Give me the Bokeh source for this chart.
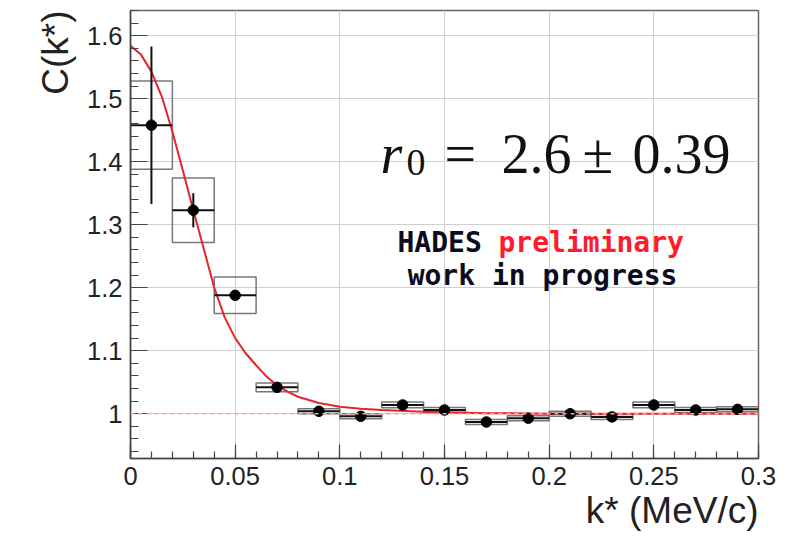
import numpy as np
from bokeh.plotting import figure
from bokeh.models import FixedTicker, Span, Label, Title
from bokeh.embed import file_html
from bokeh.resources import INLINE

# ---- data ----
k_centers = [0.01, 0.03, 0.05, 0.07, 0.09, 0.11, 0.13, 0.15, 0.17, 0.19, 0.21, 0.23, 0.25, 0.27, 0.29]
c_values = [1.458, 1.323, 1.188, 1.042, 1.004, 0.996, 1.014, 1.006, 0.987, 0.993, 1.000, 0.995, 1.014, 1.006, 1.007]
stat_err = [0.125, 0.027, 0.006, 0.004, 0.004, 0.004, 0.004, 0.004, 0.004, 0.004, 0.004, 0.004, 0.004, 0.004, 0.004]
sys_err = [0.070, 0.051, 0.029, 0.007, 0.004, 0.004, 0.0045, 0.004, 0.004, 0.004, 0.004, 0.004, 0.0045, 0.004, 0.004]
bin_half = [0.01] * 15

fit_k = [0.000, 0.005, 0.010, 0.015, 0.020, 0.025, 0.030, 0.035, 0.040, 0.045, 0.050, 0.055, 0.060,
         0.065, 0.070, 0.075, 0.080, 0.090, 0.100, 0.110, 0.120, 0.140, 0.170, 0.200, 0.250, 0.300]
fit_c = [1.584, 1.570, 1.543, 1.503, 1.448, 1.386, 1.323, 1.262, 1.200, 1.153, 1.120, 1.096, 1.077,
         1.059, 1.045, 1.035, 1.027, 1.017, 1.011, 1.008, 1.006, 1.003, 1.001, 1.000, 1.000, 1.000]

x_ticks = [0.0, 0.05, 0.1, 0.15, 0.2, 0.25, 0.3]
x_tick_labels = ["0", "0.05", "0.1", "0.15", "0.2", "0.25", "0.3"]
y_ticks = [1.0, 1.1, 1.2, 1.3, 1.4, 1.5, 1.6]
y_tick_labels = ["1", "1.1", "1.2", "1.3", "1.4", "1.5", "1.6"]

X0, X1 = 0.0, 0.3
Y0, Y1 = 0.929, 1.64
FW, FH = 628, 448
BL, BT, BR, BB = 130, 10, 28, 76
PAGE_OFF = 0

p = figure(frame_width=FW, frame_height=FH, x_range=(X0, X1), y_range=(Y0, Y1),
           output_backend="svg", toolbar_location=None,
           min_border_left=BL, min_border_right=BR, min_border_top=BT, min_border_bottom=BB)
p.background_fill_color = "white"
p.border_fill_color = "white"
p.outline_line_color = "#666666"
p.outline_line_width = 1.5

# axes
p.xaxis.ticker = FixedTicker(ticks=x_ticks, minor_ticks=[round(i * 0.01, 2) for i in range(31)])
p.yaxis.ticker = FixedTicker(ticks=y_ticks, minor_ticks=[round(0.94 + i * 0.02, 2) for i in range(36)])
p.xaxis.major_label_overrides = dict(zip(x_ticks, x_tick_labels))
p.yaxis.major_label_overrides = dict(zip(y_ticks, y_tick_labels))
for ax in (p.xaxis, p.yaxis):
    ax.major_tick_out = 0
    ax.minor_tick_out = 0
    ax.axis_line_color = "#444444"
    ax.axis_line_width = 1.5
    ax.major_tick_line_color = "#444444"
    ax.minor_tick_line_color = "#444444"
    ax.major_tick_line_width = 1.2
    ax.minor_tick_line_width = 1.2
    ax.major_label_text_font = "Liberation Sans"
    ax.major_label_text_font_size = "25.5px"
    ax.major_label_text_color = "#222222"
p.xaxis.major_tick_in = 14
p.xaxis.minor_tick_in = 7
p.yaxis.major_tick_in = 17
p.yaxis.minor_tick_in = 8
p.xaxis.major_label_standoff = 8
p.yaxis.major_label_standoff = 8

p.grid.grid_line_color = "#cfcfcf"
p.grid.grid_line_width = 1

# axis titles (as side titles, aligned to the far end like ROOT)
p.add_layout(Title(text="k* (MeV/c)", align="right", text_font="Liberation Sans",
                   text_font_size="37px", text_font_style="normal", text_color="#222222",
                   standoff=0), "below")
p.add_layout(Title(text="C(k*)", align="right", text_font="Liberation Sans",
                   text_font_size="37px", text_font_style="normal", text_color="#222222",
                   standoff=18), "left")

# reference line at 1
p.add_layout(Span(location=1.0, dimension="width", line_color="#f3a3a3",
                  line_dash="4 4", line_width=1.5))

kc = np.array(k_centers)
cv = np.array(c_values)
se = np.array(stat_err)
sy = np.array(sys_err)
bh = np.array(bin_half)

# systematic boxes
p.quad(left=kc - bh, right=kc + bh, top=cv + sy, bottom=cv - sy,
       fill_color=None, line_color="#777777", line_width=1.5)

# fit curve
p.line(fit_k, fit_c, line_color="#e8232b", line_width=2)

# stat error bars
p.segment(x0=kc, y0=cv - se, x1=kc, y1=cv + se, line_color="#111111", line_width=2)
p.segment(x0=kc - bh, y0=cv, x1=kc + bh, y1=cv, line_color="#111111", line_width=2)
p.scatter(kc, cv, size=10.5, marker="circle", fill_color="black", line_color="black")

# ---- annotations: page pixel -> data helpers ----
def kx(px):
    return X0 + (px - PAGE_OFF - BL) * (X1 - X0) / FW

def cy(py):
    return Y1 - (py - PAGE_OFF - BT) * (Y1 - Y0) / FH

def lab(px, py, text, size, font="Liberation Sans", style="normal", color="#222222",
        align="left"):
    p.add_layout(Label(x=kx(px), y=cy(py), text=text, text_font=font,
                       text_font_size=size, text_font_style=style, text_color=color,
                       text_align=align, text_baseline="alphabetic"))

# r0 formula
serif = "Liberation Serif"
lab(380, 153, "r", "56px", font=serif, style="italic", color="#111111")
lab(406, 162, "0", "38px", font=serif, color="#111111")
lab(444, 153, "=", "56px", font=serif, color="#111111")
lab(501, 153, "2.6", "56px", font=serif, color="#111111")
lab(582, 153, "±", "56px", font=serif, color="#111111")
lab(632, 153, "0.39", "56px", font=serif, color="#111111")

# HADES labels
mono = "DejaVu Sans Mono"
lab(397, 242, "HADES", "28px", font=mono, style="bold", color="#0b0b20")
lab(498, 242, "preliminary", "28px", font=mono, style="bold", color="#ff1a2e")
lab(542, 275, "work in progress", "28px", font=mono, style="bold", color="#0b0b20", align="center")

open("out.html", "w").write(file_html(p, INLINE))
